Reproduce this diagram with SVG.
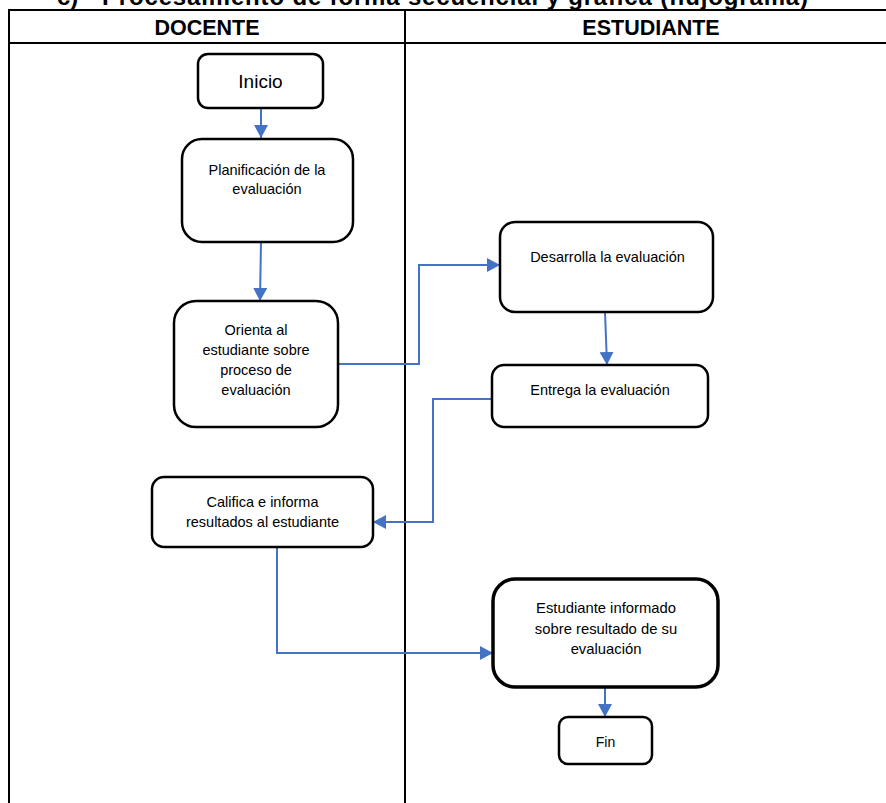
<svg xmlns="http://www.w3.org/2000/svg" width="886" height="803" viewBox="0 0 886 803">
  <style>
    .title { font-family: "Liberation Sans", Arial, sans-serif; font-weight: bold; font-size: 24px; fill: #000; }
    .head { font-family: "Liberation Sans", Arial, sans-serif; font-weight: bold; font-size: 21.5px; fill: #000; text-anchor: middle; }
    .grid { stroke: #000; stroke-width: 2; fill: none; }
    .box { fill: #fff; stroke: #000; stroke-width: 2.5; }
    .box.thick { stroke-width: 3.5; }
    .lbl { font-family: "Liberation Sans", Arial, sans-serif; font-size: 14.5px; fill: #000; text-anchor: middle; }
    .flow { fill: none; stroke: #4472C4; stroke-width: 2; marker-end: url(#tip); }
  </style>
  <defs>
    <marker id="tip" viewBox="0 0 13 14" refX="13" refY="7" markerWidth="13" markerHeight="14" markerUnits="userSpaceOnUse" orient="auto">
      <path d="M0,0 L13,7 L0,14 z" fill="#4472C4"/>
    </marker>
  </defs>

  <rect width="886" height="803" fill="#fff"/>

  <!-- section heading, clipped by the page top -->
  <text class="title" x="57" y="4.5">c)</text>
  <text class="title" x="102" y="4.5" textLength="706" lengthAdjust="spacing">Procesamiento de forma secuencial y gráfica (flujograma)</text>

  <!-- swimlane table -->
  <g id="lanes">
    <path class="grid" d="M8,10 H886 M8,43 H886 M9,9 V803 M405,10 V803"/>
    <text class="head" x="207" y="34.5">DOCENTE</text>
    <text class="head" x="651" y="34.5">ESTUDIANTE</text>
  </g>

  <!-- connectors -->
  <g id="connectors">
    <path class="flow" d="M261,108 V138"/>
    <path class="flow" d="M261,242 L260,301"/>
    <path class="flow" d="M338,364 H419 V265 H500"/>
    <path class="flow" d="M605,312 L607,365"/>
    <path class="flow" d="M492,399 H433 V522 H373"/>
    <path class="flow" d="M258,546 H277 V653 H493"/>
    <path class="flow" d="M605,687 V717"/>
  </g>

  <g id="inicio">
    <rect class="box" x="198" y="54" width="125" height="54" rx="10"/>
    <text class="lbl" x="260.5" y="88" style="font-size:19px">Inicio</text>
  </g>

  <g id="planificacion">
    <rect class="box" x="182" y="139" width="171" height="103" rx="20"/>
    <text class="lbl" x="267" y="175">Planificación de la</text>
    <text class="lbl" x="267" y="194">evaluación</text>
  </g>

  <g id="orienta">
    <rect class="box" x="174" y="301" width="164" height="126" rx="22"/>
    <text class="lbl" x="256" y="335">Orienta al</text>
    <text class="lbl" x="256" y="355">estudiante sobre</text>
    <text class="lbl" x="256" y="375">proceso de</text>
    <text class="lbl" x="256" y="395">evaluación</text>
  </g>

  <g id="desarrolla">
    <rect class="box" x="500" y="222" width="213" height="90" rx="15"/>
    <text class="lbl" x="607.5" y="262">Desarrolla la evaluación</text>
  </g>

  <g id="entrega">
    <rect class="box" x="492" y="365" width="216" height="62" rx="12"/>
    <text class="lbl" x="600" y="395">Entrega la evaluación</text>
  </g>

  <g id="califica">
    <rect class="box" x="152" y="477" width="221" height="70" rx="12"/>
    <text class="lbl" x="262.5" y="507">Califica e informa</text>
    <text class="lbl" x="262.5" y="527">resultados al estudiante</text>
  </g>

  <g id="informado">
    <rect class="box thick" x="493" y="579" width="225" height="108" rx="22"/>
    <text class="lbl" x="606" y="613" style="font-size:14.8px">Estudiante informado</text>
    <text class="lbl" x="606" y="634" style="font-size:14.8px">sobre resultado de su</text>
    <text class="lbl" x="606" y="654" style="font-size:14.8px">evaluación</text>
  </g>

  <g id="fin">
    <rect class="box" x="559" y="717" width="93" height="47" rx="9"/>
    <text class="lbl" x="605.5" y="747" style="font-size:14px">Fin</text>
  </g>
</svg>
